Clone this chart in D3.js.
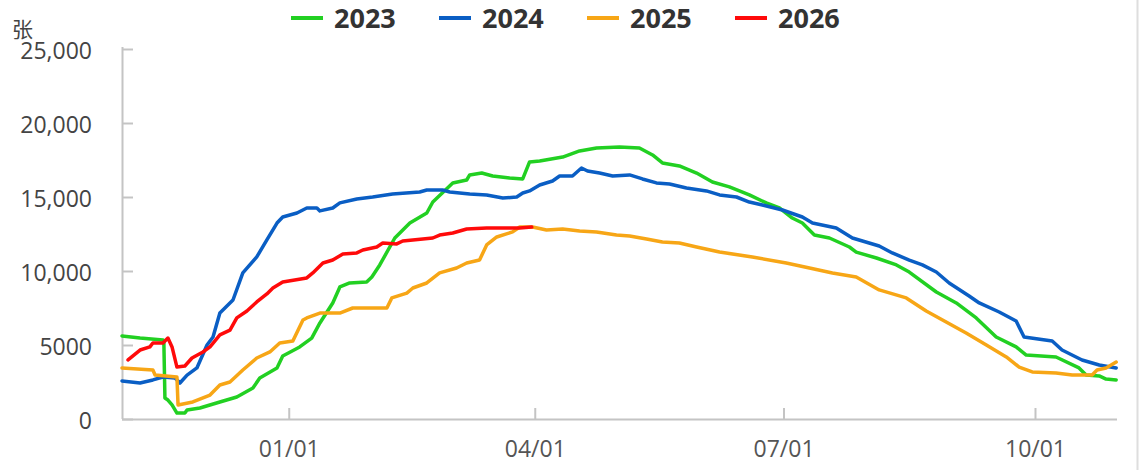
<!DOCTYPE html>
<html><head><meta charset="utf-8">
<script src="https://cdn.jsdelivr.net/npm/d3@7/dist/d3.min.js"></script>
<style>
html,body{margin:0;padding:0;background:#fff;}
svg{display:block;}
</style></head>
<body>
<svg id="chart" width="1139" height="470"></svg>
<script>
// x values: days since Nov 1 (season start); y values: 张
const seriesNames = ["2023", "2024", "2025", "2026"];
const seriesColors = ["#22d022", "#0a5ec4", "#f7a616", "#ff0a0a"];

const s2023 = [[0,5610],[6.6,5470],[15,5340],[15.3,5300],[15.7,1420],[16.8,1280],[18.3,950],[20.1,400],[23,400],[23.8,610],[28.5,740],[35.8,1150],[42,1490],[47.9,2100],[50.4,2770],[56.7,3450],[58.8,4260],[65,4870],[69.4,5470],[72.4,6490],[77.1,7840],[79.7,8920],[83.3,9190],[89.5,9260],[91.4,9600],[94.3,10410],[99.8,12230],[105.3,13240],[111.5,13920],[113.7,14660],[121,15950],[126.1,16150],[127.2,16490],[131.6,16620],[135.6,16420],[141.8,16280],[146.6,16220],[149.1,17370],[152.8,17430],[161.2,17700],[167.4,18110],[173.6,18310],[182,18380],[189.3,18310],[194.1,17840],[197.7,17300],[203.9,17100],[210.2,16620],[216,16010],[222.2,15680],[229.5,15140],[235.7,14600],[240.5,14260],[245.2,13580],[248.9,13240],[253.3,12430],[258.8,12230],[266.1,11620],[268.6,11280],[276,10880],[283.3,10410],[288,9930],[297.9,8580],[305.2,7840],[312.5,6830],[319.8,5540],[327.1,4870],[330.8,4320],[341.7,4190],[350.1,3450],[352.7,2970],[357.5,2910],[360,2700],[363.7,2640]];

const s2024 = [[0,2570],[6.6,2430],[11.3,2640],[15,2840],[19.4,2770],[21.2,2430],[23.8,2970],[27.4,3450],[31.1,5000],[33.3,5540],[35.8,7160],[40.6,8040],[44.2,9870],[49.3,10950],[53,12100],[56.7,13240],[58.8,13650],[64,13920],[67.6,14260],[71.3,14260],[72.4,14060],[77.1,14260],[79.7,14600],[85.9,14870],[91.7,15000],[99,15200],[108.9,15340],[111.5,15470],[117.3,15470],[119.9,15340],[127.2,15200],[133.4,15140],[139.3,14930],[144.4,15000],[146.6,15270],[149.1,15410],[152.8,15810],[157.5,16080],[160.1,16420],[164.8,16420],[168.1,16960],[170.3,16760],[174.7,16620],[179.5,16420],[185.7,16490],[190.4,16220],[195.5,15950],[200.3,15880],[206.5,15610],[213.8,15410],[218.6,15140],[224.8,15000],[229.5,14660],[234.3,14460],[241.6,14120],[248.9,13650],[252.6,13240],[261.3,12910],[267.2,12230],[277,11690],[281.8,11220],[288,10740],[292.8,10410],[297.9,9930],[302.6,9190],[309.9,8310],[313.6,7840],[320.9,7230],[327.1,6620],[330,5540],[340.3,5270],[343.9,4660],[351.2,3990],[357.5,3650],[363.7,3450]];

const s2025 = [[0,3450],[11.3,3310],[12.1,2970],[20.1,2840],[20.5,950],[25.9,1150],[32.2,1620],[35.8,2300],[39.5,2500],[44.2,3310],[49.3,4120],[54.1,4530],[57.7,5140],[62.5,5270],[66.2,6690],[67.6,6830],[72.4,7160],[79.7,7160],[84.4,7500],[96.9,7500],[98.7,8180],[104.2,8510],[106.4,8850],[111.5,9190],[116.2,9870],[122.4,10200],[126.1,10540],[130.8,10740],[133.4,11760],[137.1,12300],[142.9,12640],[145.5,12970],[150.2,12970],[155.3,12770],[161.2,12840],[167.4,12700],[173.6,12640],[180.9,12430],[185.7,12370],[191.9,12160],[197.7,11960],[203.9,11890],[210.2,11620],[218.6,11280],[230.6,10950],[243,10540],[251.5,10200],[259.9,9870],[268.6,9600],[277,8720],[286.9,8180],[294.2,7300],[301.5,6550],[308.8,5810],[316.2,5000],[323.5,4190],[328.2,3510],[333,3180],[341.7,3110],[347.6,2970],[354.9,2970],[356.7,3310],[360,3450],[363.7,3850]];

const s2026 = [[2.2,3990],[6.6,4660],[10.2,4870],[11.3,5140],[15,5140],[16.8,5470],[18.3,4870],[20.1,3510],[23,3580],[25.6,4120],[29.6,4530],[32.2,4870],[35.8,5680],[39.5,6010],[42,6830],[45.7,7300],[49.3,7910],[53,8450],[55.2,8850],[58.8,9260],[67.6,9530],[69.8,9870],[73.5,10540],[77.1,10740],[80.8,11150],[85.9,11220],[88.1,11420],[93.2,11620],[95.4,11890],[100.5,11830],[102.7,12030],[113.7,12230],[116.2,12430],[121,12570],[126.1,12840],[133.4,12910],[145.5,12910],[149.9,12970]];

const yTicks = [0, 5000, 10000, 15000, 20000, 25000];
const yTickLabels = ["0", "5000", "10,000", "15,000", "20,000", "25,000"];
const xTickDates = ["2002-01-01", "2002-04-01", "2002-07-01", "2002-10-01"];
const xTickLabels = ["01/01", "04/01", "07/01", "10/01"];
const unitLabel = "张";

const seasonStart = new Date(2001, 10, 1);
const seasonEnd = new Date(2002, 9, 31);
const toDate = d => new Date(seasonStart.getTime() + d * 86400000);

const svg = d3.select("#chart");
const mLeft = 122, mRight = 1117, mTop = 49, mBottom = 419;

const x = d3.scaleTime().domain([seasonStart, seasonEnd]).range([mLeft, mRight]);
const y = d3.scaleLinear().domain([0, 25000]).range([mBottom, mTop]);

const axisColor = "#c4c4c4";
const font = "'Open Sans', 'Noto Sans', sans-serif";

// right border
svg.append("line").attr("x1", 1137.5).attr("x2", 1137.5).attr("y1", 0).attr("y2", 470)
  .attr("stroke", "#dedede").attr("stroke-width", 2);

// y axis
const yAxis = d3.axisRight(y).tickValues(yTicks).tickSize(11)
  .tickFormat((d, i) => yTickLabels[i]);
const gy = svg.append("g").attr("transform", `translate(${mLeft},0)`).call(yAxis);
gy.select(".domain").attr("stroke", axisColor).attr("stroke-width", 2).attr("d", `M0.5,${mTop - 2}V${mBottom}`);
gy.selectAll(".tick line").attr("stroke", axisColor).attr("stroke-width", 2);
gy.selectAll(".tick text").attr("x", -30).attr("text-anchor", "end").attr("dy", "0.42em")
  .attr("fill", "#444").style("font-family", font).style("font-size", "23px");

// x axis
const xAxis = d3.axisTop(x).tickValues(xTickDates.map(s => d3.timeParse("%Y-%m-%d")(s)))
  .tickSize(11).tickFormat((d, i) => xTickLabels[i]);
const gx = svg.append("g").attr("transform", `translate(0,${mBottom})`).call(xAxis);
gx.select(".domain").attr("stroke", axisColor).attr("stroke-width", 2).attr("d", `M${mLeft},0.5H${mRight}`);
gx.selectAll(".tick line").attr("stroke", axisColor).attr("stroke-width", 2);
gx.selectAll(".tick text").attr("y", 38).attr("dy", 0)
  .attr("fill", "#555").style("font-family", font).style("font-size", "23px");

// unit
svg.append("text").attr("x", 12).attr("y", 37).text(unitLabel)
  .attr("fill", "#444").style("font-family", "'Noto Sans CJK SC', sans-serif").style("font-size", "21px");

// lines
const line = d3.line().x(d => x(toDate(d[0]))).y(d => y(d[1])).curve(d3.curveLinear);
[s2023, s2024, s2025, s2026].forEach((s, i) => {
  svg.append("path").datum(s).attr("d", line).attr("fill", "none")
    .attr("stroke", seriesColors[i]).attr("stroke-width", 3.5)
    .attr("stroke-linejoin", "round").attr("stroke-linecap", "round");
});

// legend
const lg = svg.append("g");
seriesNames.forEach((n, i) => {
  const x0 = 291 + i * 148;
  lg.append("line").attr("x1", x0).attr("x2", x0 + 32).attr("y1", 18).attr("y2", 18)
    .attr("stroke", seriesColors[i]).attr("stroke-width", 4);
  lg.append("text").attr("x", x0 + 43).attr("y", 27.5).text(n)
    .attr("fill", "#333").style("font-family", font).style("font-weight", "bold").style("font-size", "27px");
});
</script>
</body></html>
